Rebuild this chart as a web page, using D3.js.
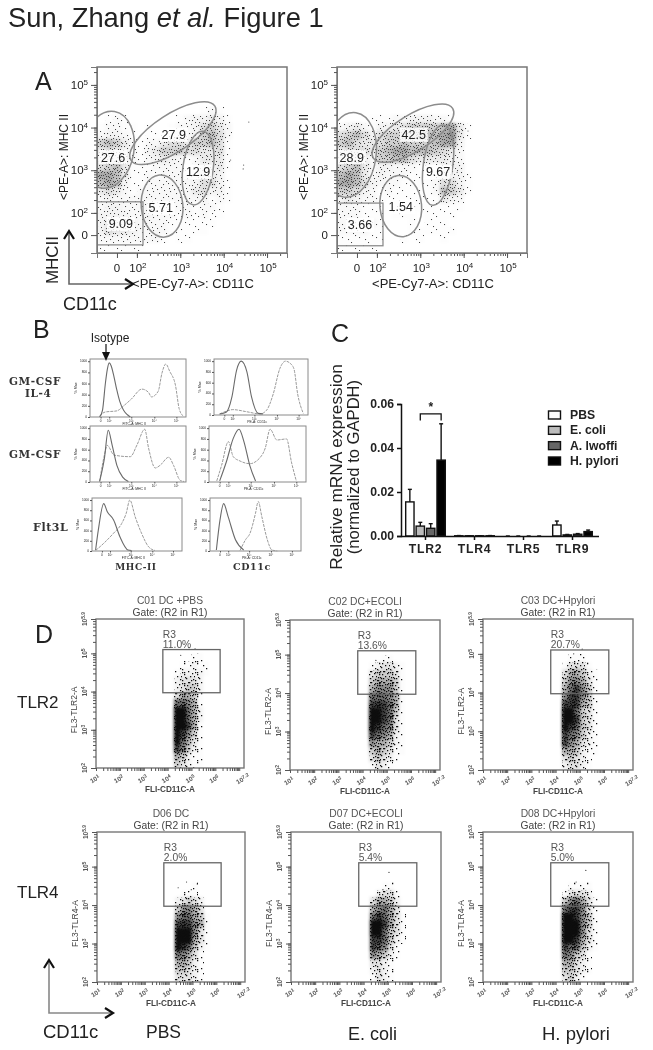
<!DOCTYPE html>
<html>
<head>
<meta charset="utf-8">
<script src="https://cdn.jsdelivr.net/npm/d3@7/dist/d3.min.js"></script>
<style>
  html, body { margin: 0; background: #fff; }
  svg { display: block; filter: blur(0.5px); }
  text { font-family: "Liberation Sans", Arial, sans-serif; fill: #222; }
</style>
</head>
<body>
<script>
/* ── Data ───────────────────────────────────────────────────── */

// Panel A: dot density, 0-9 per cell, rows top to bottom
const densityA1 = [
  "000000000000000000000000", "000000000000000000000000", "000000000000000000000000",
  "000000000000000000000000", "000000000000000000000000",
  "000000000000012100000000", "012100000012334310000000", "122110100122356420000000",
  "233210111232367520000000", "676421224554667510000000", "454321346665544510000000",
  "344321234321244410000000", "567411122221233410000000", "887411212222244300000000",
  "787311222222355310000000", "454212222222453310000000", "232222222222231210000000",
  "233222322222122100000000", "333322322212121100000000", "343332222111111000000000",
  "354432222111110000000000", "222222221011000000000000", "111111000000000000000000"
];
const densityA2 = [
  "000000000000000000000000", "000000000000000000000000", "000000000000000000000000",
  "000000000000000000000000", "000000000000000000000000",
  "000000000000000000000000", "000011122333221000000000", "234213345666678410000000",
  "567535666677789410000000", "675445667666788300000000", "455546788777654200000000",
  "344326677544443200000000", "567423322212133300000000", "787423222111133310000000",
  "887532221111255310000000", "665321211111276410000000", "343221111111143200000000",
  "222111011111111100000000", "222111011101111000000000", "222221000101110000000000",
  "222211000111111000000000", "111111001010010000000000", "111110000000000000000000"
];
// stray events outside the main cloud [log x, log y]
const strayA1 = [[4.58, 4.13], [4.46, 3.12], [4.16, 3.24], [4.45, 3.03], [3.95, 2.6]];
const strayA2 = [[3.9, 3.9], [4.1, 3.92], [3.7, 2.5], [3.85, 2.95]];

// Gates in log units; angle in degrees
const gatesA1 = [
  { cx: 1.33, cy: 3.48, rx: 0.60, ry: 0.91, angle: 10 },
  { cx: 2.83, cy: 3.87, rx: 1.15, ry: 0.44, angle: -33 },
  { cx: 3.41, cy: 3.05, rx: 0.35, ry: 0.87, angle: 8 },
  { cx: 2.58, cy: 2.16, rx: 0.48, ry: 0.73, angle: -5 }
];
const gatesA2 = [
  { cx: 1.38, cy: 3.36, rx: 0.60, ry: 1.00, angle: 8 },
  { cx: 2.83, cy: 3.87, rx: 1.08, ry: 0.42, angle: -32 },
  { cx: 3.41, cy: 3.12, rx: 0.34, ry: 0.95, angle: 8 },
  { cx: 2.55, cy: 2.16, rx: 0.48, ry: 0.72, angle: -5 }
];
const boxA1 = { x0: 1.08, x1: 2.14, y0: 1.25, y1: 2.26 };
const boxA2 = { x0: 1.08, x1: 2.14, y0: 1.23, y1: 2.23 };
const labelsA1 = [["27.6", 1.45, 3.31], ["27.9", 2.85, 3.83], ["12.9", 3.41, 2.96], ["5.71", 2.55, 2.12], ["9.09", 1.63, 1.74]];
const labelsA2 = [["28.9", 1.42, 3.31], ["42.5", 2.85, 3.83], ["9.67", 3.41, 2.96], ["1.54", 2.55, 2.14], ["3.66", 1.61, 1.72]];
const ticksA = [[1.54, "0"], [2, "2"], [3, "3"], [4, "4"], [5, "5"]];

// Panel B: histograms, [channel %, % of max]
const isoB1 = [[10,0],[13,12],[16,60],[18,85],[20,97],[22,92],[25,72],[28,48],[31,28],[35,12],[39,4],[42,0]];
const stainB1 = [[10,2],[16,9],[28,11],[35,20],[43,32],[54,50],[61,44],[64,36],[71,46],[75,79],[79,95],[83,82],[89,57],[93,14],[97,2]];
const isoB2 = [[6,2],[13,5],[19,33],[24,83],[29,100],[35,80],[40,33],[47,3],[52,2]];
const stainB2 = [[6,2],[13,7],[20,10],[35,6],[49,2],[56,9],[63,39],[70,86],[76,100],[81,96],[85,86],[89,39],[95,3]];
const isoB3 = [[10,1],[15,44],[19,96],[23,69],[28,31],[34,9],[40,1]];
const stainB3 = [[10,1],[15,50],[18,68],[25,50],[42,47],[49,69],[57,98],[61,63],[68,26],[73,31],[82,46],[87,31],[94,3],[98,1]];
const isoB4 = [[11,2],[18,38],[25,81],[31,98],[36,75],[42,31],[48,2]];
const stainB4 = [[8,2],[13,31],[20,75],[25,47],[32,39],[42,34],[52,44],[58,63],[63,98],[70,78],[80,80],[85,37],[90,2]];
const isoB5 = [[4,2],[7,41],[13,93],[17,77],[24,61],[31,28],[40,2],[44,1]];
const stainB5 = [[4,1],[13,15],[24,35],[33,54],[38,74],[42,100],[48,67],[55,35],[63,8],[70,1]];
const isoB6 = [[7,2],[11,61],[15,93],[20,67],[28,22],[37,2]];
const stainB6 = [[33,1],[39,22],[44,35],[50,74],[53,97],[57,67],[63,22],[68,2],[74,0]];
const histTicksY = [0, 200, 400, 600, 800, 1000];
const histTicksX = [[11, "0"], [20, "10\u00b2"], [43, "10\u00b3"], [67, "10\u2074"], [90, "10\u2075"]];

// Panel C
const genes = ["TLR2", "TLR4", "TLR5", "TLR9"];
const treatments = ["PBS", "E. coli", "A. lwoffi", "H. pylori"];
const treatmentFill = ["#ffffff", "#bcbcbc", "#666666", "#000000"];
const meansC = [
  [0.0155, 0.0045, 0.0035, 0.0345],
  [0.0001, 0.0001, 0.0001, 0.0001],
  [0.0000, 0.0000, 0.0000, 0.0000],
  [0.0050, 0.0005, 0.0008, 0.0020]
];
const upperC = [
  [0.0212, 0.0062, 0.0056, 0.0510],
  [0.0002, 0.0001, 0.0001, 0.0002],
  [0.0000, 0.0000, 0.0000, 0.0000],
  [0.0068, 0.0007, 0.0011, 0.0027]
];
const ticksC = [0, 0.02, 0.04, 0.06];

// Panel D: density for log x 4.25..5.75, log y 5.2..2.0
const densityD1 = ["000000","000110","011211","122221","233320","234420","355410","776510","997520","997520","998510","986410","975310","864210","542110","432110"];
const densityD2 = ["000000","001100","123321","344431","455541","566641","777651","888751","998741","998731","987631","876521","655421","454311","343210","132100"];
const densityD3 = ["000000","011100","133310","355421","466531","578641","688641","888541","997431","998431","987431","876421","865321","554211","343210","233210"];
const densityD4 = ["000000","000000","000000","000100","011100","234320","466530","677541","888651","999631","999531","987421","765310","554210","443210","333210"];
const densityD5 = ["000000","000000","000000","001100","023310","355420","567530","787531","998531","997431","887421","876310","654210","332100","232100","132100"];
const densityD6 = ["000000","000000","000000","011110","133320","467531","788631","998641","999641","999631","998531","877421","764310","553210","443210","342100"];
const titlesD = ["C01 DC +PBS", "C02 DC+ECOLI", "C03 DC+Hpylori", "D06 DC", "D07 DC+ECOLI", "D08 DC+Hpylori"];
const percentsD = ["11.0%", "13.6%", "20.7%", "2.0%", "5.4%", "5.0%"];
const markersD = ["FL3-TLR2-A", "FL3-TLR2-A", "FL3-TLR2-A", "FL3-TLR4-A", "FL3-TLR4-A", "FL3-TLR4-A"];
const straysD = [
  [[4.9, 5.15], [5.15, 5.12], [4.55, 4.95]],
  [[4.55, 4.85]],
  [[5.1, 5.12], [4.75, 5.0]],
  [[4.75, 4.6], [4.4, 4.45], [5.2, 4.55], [4.95, 4.4]],
  [[5.05, 4.85], [4.8, 4.4]],
  [[5.25, 4.9], [4.85, 4.6]]
];
const decadesDX = [1, 2, 3, 4, 5, 6, 7.2];
const decadesDY = [2, 3, 4, 5, 5.9];

/* ── Page ───────────────────────────────────────────────────── */

const svg = d3.select("body").append("svg").attr("width", 653).attr("height", 1050);
const defs = svg.append("defs");
defs.append("filter").attr("id", "soften").attr("x", "-20%").attr("y", "-20%").attr("width", "140%").attr("height", "140%")
  .append("feGaussianBlur").attr("stdDeviation", 1.6);

function label(txt, x, y, size, opts = {}) {
  const t = svg.append("text").attr("x", x).attr("y", y).attr("font-size", size).text(txt);
  if (opts.anchor) t.attr("text-anchor", opts.anchor);
  if (opts.weight) t.attr("font-weight", opts.weight);
  if (opts.fill) t.style("fill", opts.fill);
  if (opts.rotate) t.attr("transform", `rotate(${opts.rotate},${x},${y})`);
  if (opts.family) t.style("font-family", opts.family);
  if (opts.spacing) t.attr("letter-spacing", opts.spacing);
  return t;
}

/* Stipple tiles: one per density level, dots taken in a fixed order */
const TILE_DOTS = [[2,3],[11,8],[6,11],[15,1],[8,5],[0,9],[13,12],[4,7],[10,2],[16,6],[7,0],[2,12],[12,5],[5,3],[9,9],
  [14,9],[1,6],[6,7],[11,12],[3,0],[15,11],[8,2],[13,3],[4,10],[10,6],[0,2],[7,8],[16,3],[2,9],[12,0],
  [5,12],[9,4],[14,6],[1,1],[6,4],[11,10],[3,5],[15,8],[8,11],[13,7],[4,1],[10,9],[0,12],[7,3],[16,10]];
const STIPPLE = {
  a: { color: "#444444", size: 1.05, tint: 0.007, tw: 17, th: 13 },
  d: { color: "#0c0c0c", size: 1.25, tint: 0.0125, tw: 13, th: 11 }
};
Object.entries(STIPPLE).forEach(([key, s]) => {
  d3.range(1, 10).forEach(level => {
    const p = defs.append("pattern").attr("id", `stipple-${key}-${level}`)
      .attr("patternUnits", "userSpaceOnUse").attr("width", s.tw).attr("height", s.th);
    p.selectAll("rect").data(TILE_DOTS.slice(0, level * 5)).enter().append("rect")
      .attr("x", d => d[0] % s.tw).attr("y", d => d[1] % s.th)
      .attr("width", s.size).attr("height", s.size).attr("fill", s.color);
  });
});

function drawDensity(g, grid, x, y, startX, dx, startY, dy, key) {
  const cells = [];
  grid.forEach((row, r) => row.split("").forEach((c, col) => {
    if (+c > 0) cells.push({ level: +c, x0: startX + col * dx, x1: startX + (col + 1) * dx, y0: startY - r * dy, y1: startY - (r + 1) * dy });
  }));
  const box = sel => sel
    .attr("x", d => Math.round(x(d.x0))).attr("y", d => Math.round(y(d.y0)))
    .attr("width", d => Math.round(x(d.x1)) - Math.round(x(d.x0)))
    .attr("height", d => Math.round(y(d.y1)) - Math.round(y(d.y0)))
    .attr("shape-rendering", "crispEdges");
  g.append("g").attr("filter", "url(#soften)").selectAll("rect").data(cells).enter().append("rect").call(box)
    .attr("fill", STIPPLE[key].color).attr("opacity", d => d.level * d.level * STIPPLE[key].tint);
  g.append("g").selectAll("rect").data(cells).enter().append("rect").call(box)
    .attr("fill", d => `url(#stipple-${key}-${d.level})`);
}

function logMinor(lo, hi) {
  const out = [];
  for (let e = Math.floor(lo); e <= hi; e++) {
    d3.range(1, 10).forEach(k => {
      const v = e + Math.log10(k);
      if (v >= lo && v <= hi) out.push(v);
    });
  }
  return out;
}

/* ── A: MHC II vs CD11c dot plots ───────────────────────────── */

function panelA(left, density, stray, gates, box, labels, clipId) {
  const x = d3.scaleLinear().domain([1.08, 5.46]).range([left, left + 190]);
  const y = d3.scaleLinear().domain([1.06, 5.42]).range([253, 67]);
  const g = svg.append("g");

  defs.append("clipPath").attr("id", clipId).append("rect")
    .attr("x", left).attr("y", 67).attr("width", 190).attr("height", 186);
  const plot = g.append("g").attr("clip-path", `url(#${clipId})`);

  drawDensity(plot, density, x, y, 1.08, 0.1825, 5.42, 0.1875, "a");
  plot.append("g").selectAll("circle").data(stray).enter().append("circle")
    .attr("cx", d => x(d[0])).attr("cy", d => y(d[1])).attr("r", 0.6).attr("fill", "#555");

  plot.append("g").selectAll("ellipse").data(gates).enter().append("ellipse")
    .attr("cx", d => x(d.cx)).attr("cy", d => y(d.cy))
    .attr("rx", d => x(d.cx + d.rx) - x(d.cx))
    .attr("ry", d => y(d.cy) - y(d.cy + d.ry))
    .attr("transform", d => `rotate(${d.angle},${x(d.cx)},${y(d.cy)})`)
    .attr("fill", "none").attr("stroke", "#8c8c8c").attr("stroke-width", 1.5);
  plot.append("rect").attr("x", x(box.x0)).attr("y", y(box.y1))
    .attr("width", x(box.x1) - x(box.x0)).attr("height", y(box.y0) - y(box.y1))
    .attr("fill", "none").attr("stroke", "#8c8c8c").attr("stroke-width", 1.3);

  labels.forEach(([txt, lx, ly]) => {
    g.append("rect").attr("x", x(lx) - 14).attr("y", y(ly) - 7).attr("width", 28).attr("height", 14)
      .attr("fill", "#fff").attr("opacity", 0.85);
    g.append("text").attr("x", x(lx)).attr("y", y(ly) + 4.5).attr("text-anchor", "middle")
      .attr("font-size", 12.5).text(txt);
  });

  g.append("rect").attr("x", left).attr("y", 67).attr("width", 190).attr("height", 186)
    .attr("fill", "none").attr("stroke", "#777").attr("stroke-width", 1.5);

  // minor ticks then labelled ones
  const axisX = g.append("g").attr("transform", "translate(0,253)");
  axisX.call(d3.axisBottom(x).tickValues(logMinor(2, 5.4)).tickSize(3).tickFormat(""));
  axisX.append("g").call(d3.axisBottom(x).tickValues(ticksA.map(d => d[0])).tickSize(5).tickFormat(""));
  const axisY = g.append("g").attr("transform", `translate(${left},0)`);
  axisY.call(d3.axisLeft(y).tickValues(logMinor(2, 5.4)).tickSize(3).tickFormat(""));
  axisY.append("g").call(d3.axisLeft(y).tickValues([1.48, 2, 3, 4, 5]).tickSize(6).tickFormat(""));
  g.selectAll(".domain").attr("stroke", "#777");
  g.selectAll(".tick line").attr("stroke", "#555");

  ticksA.forEach(([v, e]) => {
    const t = g.append("text").attr("x", x(v) + (e === "0" ? 0 : 1)).attr("y", 272)
      .attr("text-anchor", "middle").attr("font-size", 11.5);
    if (e === "0") t.text("0");
    else {
      t.append("tspan").text("10");
      t.append("tspan").attr("dy", -4).attr("font-size", 8).text(e);
    }
  });
  [[1.48, "0"], [2, "2"], [3, "3"], [4, "4"], [5, "5"]].forEach(([v, e]) => {
    const t = g.append("text").attr("x", left - 9).attr("y", y(v) + 4)
      .attr("text-anchor", "end").attr("font-size", 11.5);
    if (e === "0") t.text("0");
    else {
      t.append("tspan").text("10");
      t.append("tspan").attr("dy", -4).attr("font-size", 8).text(e);
    }
  });
  label("<PE-Cy7-A>: CD11C", left + 96, 288, 13, { anchor: "middle" });
  label("<PE-A>: MHC II", left - 29, 157, 12, { anchor: "middle", rotate: -90 });
}

panelA(97, densityA1, strayA1, gatesA1, boxA1, labelsA1, "clip-a1");
panelA(337, densityA2, strayA2, gatesA2, boxA2, labelsA2, "clip-a2");

/* ── B: overlaid histograms ─────────────────────────────────── */

function panelB(left, top, w, h, iso, stain, xName) {
  const x = d3.scaleLinear().domain([0, 100]).range([left, left + w]);
  const y = d3.scaleLinear().domain([0, 104]).range([top + h, top]);
  const g = svg.append("g");
  g.append("rect").attr("x", left).attr("y", top).attr("width", w).attr("height", h)
    .attr("fill", "none").attr("stroke", "#8a8a8a").attr("stroke-width", 1);
  const line = d3.line().x(d => x(d[0])).y(d => y(d[1])).curve(d3.curveMonotoneX);
  g.append("path").datum(stain).attr("d", line).attr("fill", "none")
    .attr("stroke", "#9a9a9a").attr("stroke-width", 1).attr("stroke-dasharray", "3 1");
  g.append("path").datum(iso).attr("d", line).attr("fill", "none")
    .attr("stroke", "#6a6a6a").attr("stroke-width", 1.1);

  const ax = g.append("g").attr("transform", `translate(0,${top + h})`)
    .call(d3.axisBottom(x).tickValues(histTicksX.map(d => d[0])).tickSize(1.5).tickFormat(""));
  const ay = g.append("g").attr("transform", `translate(${left},0)`)
    .call(d3.axisLeft(y).tickValues(histTicksY.map(d => d / 10)).tickSize(2).tickFormat(""));
  ax.select(".domain").remove(); ay.select(".domain").remove();
  g.selectAll(".tick line").attr("stroke", "#555");
  histTicksX.forEach(([v, t]) => {
    g.append("text").attr("x", x(v)).attr("y", top + h + 5).attr("text-anchor", "middle")
      .attr("font-size", 3.2).text(t);
  });
  histTicksY.forEach(v => {
    g.append("text").attr("x", left - 3).attr("y", y(v / 10) + 1).attr("text-anchor", "end")
      .attr("font-size", 3.2).text(v);
  });
  g.append("text").attr("x", left + w * 0.46).attr("y", top + h + 7.5).attr("text-anchor", "middle")
    .attr("font-size", 3.4).text(xName);
  g.append("text").attr("transform", `translate(${left - 13},${top + h / 2}) rotate(-90)`)
    .attr("text-anchor", "middle").attr("font-size", 3.6).text("% Max");
}

panelB(90, 359, 96, 58, isoB1, stainB1, "FITC-A: MHC II");
panelB(214, 359, 94, 56, isoB2, stainB2, "PE-A: CD11c");
panelB(90, 426, 96, 56, isoB3, stainB3, "FITC-A: MHC II");
panelB(209, 426, 97, 56, isoB4, stainB4, "PE-A: CD11c");
panelB(92, 498, 90, 53, isoB5, stainB5, "FITC-A: MHC II");
panelB(210, 498, 91, 53, isoB6, stainB6, "PE-A: CD11c");

const rowFont = { family: '"DejaVu Serif", serif', weight: 700, fill: "#333", spacing: 0.6 };
label("GM-CSF", 9, 385, 10.5, rowFont);
label("IL-4", 25, 397, 10.5, rowFont);
label("GM-CSF", 9, 458, 10.5, rowFont);
label("Flt3L", 33, 531, 11, rowFont);
label("MHC-II", 136, 570, 9, { ...rowFont, anchor: "middle" });
label("CD11c", 252, 570, 9.5, { ...rowFont, anchor: "middle" });
label("Isotype", 110, 342, 12, { anchor: "middle" });
svg.append("line").attr("x1", 106).attr("y1", 344).attr("x2", 106).attr("y2", 353)
  .attr("stroke", "#111").attr("stroke-width", 1.2);
svg.append("path").attr("d", "M102,352 L110,352 L106,361 Z").attr("fill", "#111");

/* ── C: grouped bars ────────────────────────────────────────── */

const yC = d3.scaleLinear().domain([0, 0.06]).range([536, 404]);
const xC = d3.scaleBand().domain(genes).range([401, 597]);
const xInner = d3.scaleBand().domain(treatments).range([0, xC.bandwidth()]).paddingInner(0.2).paddingOuter(0.45);
const gC = svg.append("g");

genes.forEach((gene, gi) => {
  treatments.forEach((tr, ti) => {
    const bx = xC(gene) + xInner(tr);
    const mid = bx + xInner.bandwidth() / 2;
    gC.append("line").attr("x1", mid).attr("x2", mid)
      .attr("y1", yC(meansC[gi][ti])).attr("y2", yC(upperC[gi][ti]))
      .attr("stroke", "#111").attr("stroke-width", 1.4);
    gC.append("line").attr("x1", mid - 2).attr("x2", mid + 2)
      .attr("y1", yC(upperC[gi][ti])).attr("y2", yC(upperC[gi][ti]))
      .attr("stroke", "#111").attr("stroke-width", 1.4);
    gC.append("rect").attr("x", bx).attr("y", yC(meansC[gi][ti]))
      .attr("width", xInner.bandwidth()).attr("height", 536 - yC(meansC[gi][ti]))
      .attr("fill", treatmentFill[ti]).attr("stroke", "#111").attr("stroke-width", 1.4);
  });
});

const axisCY = gC.append("g").attr("transform", "translate(401,0)")
  .call(d3.axisLeft(yC).tickValues(ticksC).tickFormat(d3.format(".2f")).tickSize(4));
const axisCX = gC.append("g").attr("transform", "translate(0,536)")
  .call(d3.axisBottom(xC).tickSize(4));
axisCX.select(".domain").attr("d", "M401,0.5H599");
[axisCY, axisCX].forEach(a => {
  a.selectAll("path,line").attr("stroke", "#111").attr("stroke-width", 1.5);
  a.selectAll("text").attr("font-size", 12.2).attr("font-weight", 700)
    .style("font-family", '"Liberation Sans", Arial, sans-serif').style("fill", "#222");
});
axisCX.selectAll("text").attr("letter-spacing", 0.8).attr("dy", "0.85em");

// significance bracket PBS vs H. pylori, TLR2
const brLeft = xC("TLR2") + xInner("E. coli") + xInner.bandwidth() / 2;
const brRight = xC("TLR2") + xInner("H. pylori") + xInner.bandwidth() / 2;
gC.append("path")
  .attr("d", `M${brLeft},${yC(0.0525)}V${yC(0.0555)}H${brRight}V${yC(0.0525)}`)
  .attr("fill", "none").attr("stroke", "#111").attr("stroke-width", 1.3);
label("*", (brLeft + brRight) / 2, 411, 12, { anchor: "middle", weight: 700 });

treatments.forEach((tr, i) => {
  const ly = d3.scalePoint().domain(treatments).range([415, 461])(tr);
  svg.append("rect").attr("x", 548.5).attr("y", ly - 4).attr("width", 12).attr("height", 8)
    .attr("fill", treatmentFill[i]).attr("stroke", "#111").attr("stroke-width", 1.4);
  label(tr, 570, ly + 4, 12.2, { weight: 700 });
});

label("Relative mRNA expression", 342, 467, 17.3, { anchor: "middle", rotate: -90 });
label("(normalized to GAPDH)", 359, 467, 16.6, { anchor: "middle", rotate: -90 });

/* ── D: TLR dot plots ───────────────────────────────────────── */

function panelD(i, left, top, w, h, density) {
  const x = d3.scaleLinear().domain([1, 7.2]).range([left, left + w]);
  const y = d3.scaleLinear().domain([2, 5.9]).range([top + h, top]);
  const g = svg.append("g");
  drawDensity(g, density, x, y, 4.25, 0.25, 5.2, 0.2, "d");
  g.append("g").selectAll("circle").data(straysD[i]).enter().append("circle")
    .attr("cx", d => x(d[0])).attr("cy", d => y(d[1])).attr("r", 0.6).attr("fill", "#333");

  g.append("rect").attr("x", x(3.8)).attr("y", y(5.1))
    .attr("width", x(6.2) - x(3.8)).attr("height", y(3.97) - y(5.1))
    .attr("fill", "none").attr("stroke", "#666").attr("stroke-width", 1.3);
  g.append("rect").attr("x", left).attr("y", top).attr("width", w).attr("height", h)
    .attr("fill", "none").attr("stroke", "#777").attr("stroke-width", 1.4);

  const ax = g.append("g").attr("transform", `translate(0,${top + h})`);
  ax.call(d3.axisBottom(x).tickValues(logMinor(1, 7.2)).tickSize(3).tickFormat(""));
  const ay = g.append("g").attr("transform", `translate(${left},0)`);
  ay.call(d3.axisLeft(y).tickValues(logMinor(2, 5.9)).tickSize(3).tickFormat(""));
  ay.append("g").call(d3.axisLeft(y).tickValues(decadesDY).tickSize(5).tickFormat(""));
  g.selectAll(".domain").remove();
  g.selectAll(".tick line").attr("stroke", "#555");

  decadesDX.forEach(v => {
    g.append("text").attr("x", x(v)).attr("y", top + h + 13).attr("text-anchor", "middle")
      .attr("font-size", 6.5).attr("font-weight", 700).style("fill", "#555")
      .attr("transform", `rotate(-30,${x(v)},${top + h + 13})`).text("10").append("tspan")
      .attr("dy", -2).attr("font-size", 5).text(v);
  });
  decadesDY.forEach(v => {
    g.append("text").attr("transform", `translate(${left - 9},${y(v)}) rotate(-90)`)
      .attr("text-anchor", "middle").attr("font-size", 6.5).attr("font-weight", 700).style("fill", "#555")
      .text("10").append("tspan").attr("dy", -2).attr("font-size", 5).text(v);
  });

  label(titlesD[i], left + w / 2, top - 15, 10.3, { anchor: "middle", fill: "#555" });
  label("Gate: (R2 in R1)", left + w / 2, top - 3, 10.3, { anchor: "middle", fill: "#444" });
  label("R3", x(3.8), y(5.1) - 12, 10.3, { fill: "#555" });
  label(percentsD[i], x(3.8), y(5.1) - 2, 10.3, { fill: "#555" });
  label("FLI-CD11C-A", left + w / 2, top + h + 24, 8.2, { anchor: "middle", weight: 700, fill: "#444" });
  label(markersD[i], left - 19, top + h * 0.61, 8.5, { anchor: "middle", rotate: -90, fill: "#444" });
}

panelD(0, 96, 619, 148, 149, densityD1);
panelD(1, 290, 620, 150, 150, densityD2);
panelD(2, 483, 619, 150, 151, densityD3);
panelD(3, 97, 832, 148, 150, densityD4);
panelD(4, 291, 832, 150, 150, densityD5);
panelD(5, 483, 832, 150, 150, densityD6);

/* ── Text and axis arrows ───────────────────────────────────── */

const title = label("", 8, 27, 27.3);
title.append("tspan").text("Sun, Zhang ");
title.append("tspan").attr("font-style", "italic").text("et al.");
title.append("tspan").text(" Figure 1");

label("A", 35, 90, 25);
label("B", 33, 338, 25);
label("C", 331, 342, 25);
label("D", 35, 643, 25);
label("MHCII", 58, 260, 17, { anchor: "middle", rotate: -90 });
label("CD11c", 63, 310, 18);
label("TLR2", 17, 708, 17);
label("TLR4", 17, 898, 17);
label("CD11c", 43, 1038, 18.5);
label("PBS", 146, 1038, 17.5);
label("E. coli", 348, 1040, 18);
label("H. pylori", 542, 1040, 18.5);

function elbowArrow(x0, y0, x1, y1, color) {
  svg.append("path").attr("d", `M${x0},${y1}V${y0}H${x1}`).attr("fill", "none")
    .attr("stroke", color).attr("stroke-width", 1.6);
  svg.append("path").attr("d", `M${x0 - 5},${y1 + 8}L${x0},${y1}L${x0 + 5},${y1 + 8}`)
    .attr("fill", "none").attr("stroke", "#111").attr("stroke-width", 2.2);
  svg.append("path").attr("d", `M${x1 - 8},${y0 - 5}L${x1},${y0}L${x1 - 8},${y0 + 5}`)
    .attr("fill", "none").attr("stroke", "#111").attr("stroke-width", 2.2);
}
elbowArrow(69, 284, 133, 231, "#666");
elbowArrow(49, 1013, 113, 960, "#888");
</script>
</body>
</html>
